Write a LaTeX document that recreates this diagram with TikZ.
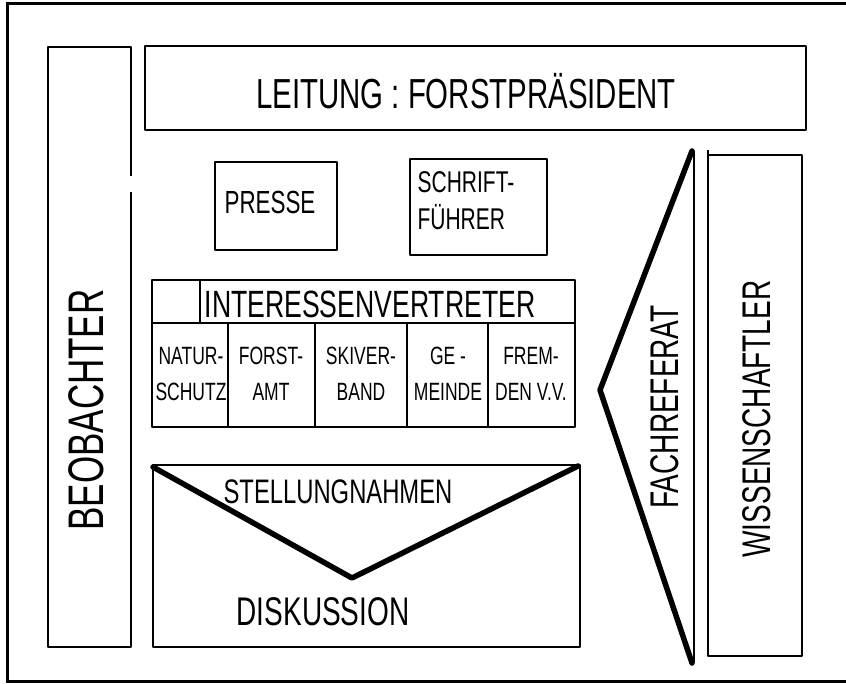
\documentclass[tikz,border=0pt]{standalone}
\usepackage{fontspec}
\setmainfont[FakeStretch=0.7]{Liberation Sans}
\usepackage{tikz}
\tikzset{
  hearingBox/.style={
    draw=black,
    line width=2.5pt,
    line join=round
  },
  hearingThick/.style={
    draw=black,
    line width=5.5pt,
    line join=round,
    line cap=round
  },
  hearingFrame/.style={
    draw=black,
    line width=3pt
  },
  hearingLabel/.style={
    inner sep=0pt,
    align=center,
    text=black
  },
  hearingCell/.style={
    hearingLabel,
    font=\fontsize{25}{36}\selectfont
  }
}

\begin{document}
\begin{tikzpicture}[x=1pt, y=-1pt]
\useasboundingbox (0,0) rectangle (846,683);
\draw[hearingFrame] (846,3) -- (7,3) -- (7,681) -- (846,681);

\draw[hearingBox] (131,176) -- (131,47) -- (48,47) -- (48,647) -- (131,647) -- (131,192);
\node[hearingLabel, rotate=90, font=\fontsize{50}{50}\selectfont] (beob) at (86,410) {BEOBACHTER};

\draw[hearingBox] (145,46) rectangle (806,130);
\node[hearingLabel, anchor=base, font=\fontsize{42}{42}\selectfont] (leitung) at (466,108)
  {LEITUNG : FORSTPRÄSIDENT};

\draw[hearingBox] (215,162) rectangle (337,250);
\node[hearingLabel, anchor=base, font=\fontsize{32}{32}\selectfont] (presse) at (270,213) {PRESSE};
\draw[hearingBox] (410,159) rectangle (547,255);
\node[hearingLabel, align=left, font=\fontsize{30}{37}\selectfont] (schrift) at (466,201)
  {SCHRIFT-\\FÜHRER};

\draw[hearingBox] (152,280) rectangle (575,427);
\draw[hearingBox] (152,323) -- (575,323);
\draw[hearingBox] (200,280) -- (200,323);
\foreach \x in {228,315,407,488}
  \draw[hearingBox] (\x,323) -- (\x,427);
\node[hearingLabel, anchor=base, font=\fontsize{38}{38}\selectfont] (interessen) at (370,317)
  {INTERESSENVERTRETER};
\node[hearingCell] (natur) at (191,374) {NATUR-\\SCHUTZ};
\node[hearingCell] (forst) at (271,374) {FORST-\\AMT};
\node[hearingCell] (ski) at (361,374) {SKIVER-\\BAND};
\node[hearingCell] (gemeinde) at (448,374) {GE -\\MEINDE};
\node[hearingCell] (fremden) at (531,374) {FREM-\\DEN V.V.};

\draw[hearingBox] (153,465) rectangle (580,647);
\draw[hearingThick] (153,467) -- (352,578) -- (578,466);
\node[hearingLabel, anchor=base, font=\fontsize{34}{34}\selectfont] (stellung) at (338,503)
  {STELLUNGNAHMEN};
\node[hearingLabel, anchor=base, font=\fontsize{40}{40}\selectfont] (diskussion) at (323,625)
  {DISKUSSION};

\draw[hearingThick] (692,151) -- (600,390) -- (692,663);
\draw[hearingBox] (694,151) -- (694,663);
\node[hearingLabel, rotate=90, font=\fontsize{40}{40}\selectfont] (fachref) at (665,407) {FACHREFERAT};

\draw[hearingBox] (708,150) -- (708,656) -- (802,656) -- (802,155) -- (708,155);
\node[hearingLabel, rotate=90, font=\fontsize{40}{40}\selectfont] (wiss) at (757,419) {WISSENSCHAFTLER};
\end{tikzpicture}
\end{document}
